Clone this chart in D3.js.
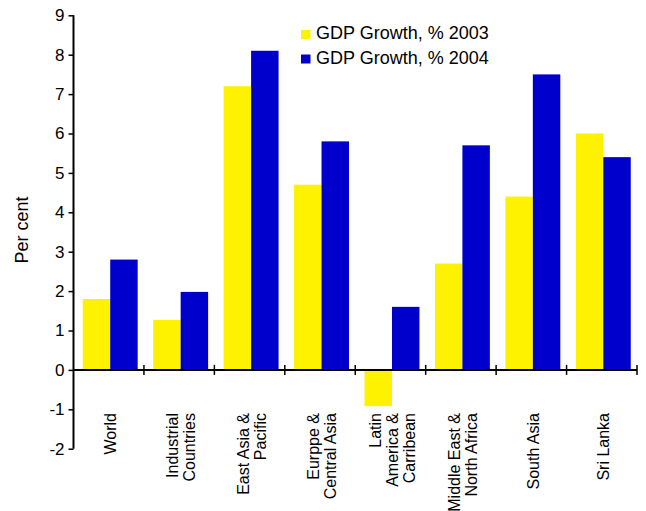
<!DOCTYPE html>
<html>
<head>
<meta charset="utf-8">
<script src="https://cdn.jsdelivr.net/npm/d3@7"></script>
<style>
  html, body { margin: 0; padding: 0; background: #fff; }
  svg { display: block; font-family: "Liberation Sans", Arial, sans-serif; }
</style>
</head>
<body>
<script>
const categories = [
  ["World"],
  ["Industrial", "Countries"],
  ["East Asia &", "Pacific"],
  ["Eurppe &", "Central Asia"],
  ["Latin", "America &", "Carribean"],
  ["Middle East &", "North Africa"],
  ["South Asia"],
  ["Sri  Lanka"]
];
const seriesNames = ["GDP Growth, % 2003", "GDP Growth, % 2004"];
const gdp2003 = [1.8, 1.27, 7.2, 4.7, -0.92, 2.7, 4.4, 6.0];
const gdp2004 = [2.8, 1.98, 8.1, 5.8, 1.6, 5.7, 7.5, 5.4];
const yTicks = [-2, -1, 0, 1, 2, 3, 4, 5, 6, 7, 8, 9];
const colors = ["#FFF200", "#0000CC"];

const W = 646, H = 511;
const svg = d3.select("body").append("svg").attr("width", W).attr("height", H);

const catKeys = categories.map((c, i) => i);
const x0 = d3.scaleBand().domain(catKeys).range([73.5, 637]).paddingInner(0.22).paddingOuter(0.11);
const x1 = d3.scaleBand().domain([0, 1]).range([0, x0.bandwidth()]);
const y = d3.scaleLinear().domain([-2, 9]).range([448.7, 15.3]);
const barShift = 1.5;

const data = catKeys.map(i => ({ i, vals: [gdp2003[i], gdp2004[i]] }));

// category labels
const lab = svg.append("g");
categories.forEach((lines, i) => {
  const cx = x0(i) + x0.bandwidth() / 2 + 1.5;
  const t = lab.append("text")
    .attr("transform", `translate(${cx},413) rotate(-90)`)
    .attr("text-anchor", "end")
    .attr("font-size", 16)
    .attr("fill", "#000");
  const n = lines.length;
  lines.forEach((ln, k) => {
    t.append("tspan").attr("x", 0)
      .attr("y", (k - (n - 1) / 2) * 17 + 6)
      .text(ln);
  });
});

// bars
const g = svg.append("g");
data.forEach(d => {
  d.vals.forEach((v, s) => {
    g.append("rect")
      .attr("x", x0(d.i) + x1(s) + barShift)
      .attr("y", y(Math.max(0, v)))
      .attr("width", x1.bandwidth())
      .attr("height", Math.abs(y(v) - y(0)))
      .attr("fill", colors[s]);
  });
});

// y axis
const yAxis = d3.axisLeft(y).tickValues(yTicks).tickSize(5).tickPadding(4).tickFormat(d => String(d));
const ya = svg.append("g").attr("transform", "translate(73.5,0)").call(yAxis);
ya.select(".domain").attr("stroke", "#000").attr("stroke-width", 2).attr("d", `M0,${y(9)}V${y(-2)}`);
ya.selectAll(".tick line").attr("stroke", "#000").attr("stroke-width", 1.5);
ya.selectAll(".tick text").attr("font-size", 17).attr("fill", "#000")
  .attr("font-family", "'Liberation Sans', Arial, sans-serif");

// x axis at zero
const xa = svg.append("g");
xa.append("line").attr("x1", 73.5).attr("x2", 637).attr("y1", y(0)).attr("y2", y(0))
  .attr("stroke", "#000").attr("stroke-width", 2);
xa.selectAll("line.tk").data(catKeys).enter().append("line")
  .attr("class", "tk")
  .attr("x1", i => 73.5 + x0.step() * (i + 1))
  .attr("x2", i => 73.5 + x0.step() * (i + 1))
  .attr("y1", y(0) - 5).attr("y2", y(0) + 5)
  .attr("stroke", "#000").attr("stroke-width", 1.5);

// y label
svg.append("text")
  .attr("transform", "translate(28,230) rotate(-90)")
  .attr("text-anchor", "middle")
  .attr("font-size", 18)
  .text("Per cent");

// legend
const leg = svg.append("g");
seriesNames.forEach((nm, s) => {
  const yy = 39 + s * 24.5;
  leg.append("rect").attr("x", 301).attr("y", yy - 9).attr("width", 9.5).attr("height", 9)
    .attr("fill", colors[s]);
  leg.append("text").attr("x", 316).attr("y", yy).attr("font-size", 18).text(nm);
});
</script>
</body>
</html>
